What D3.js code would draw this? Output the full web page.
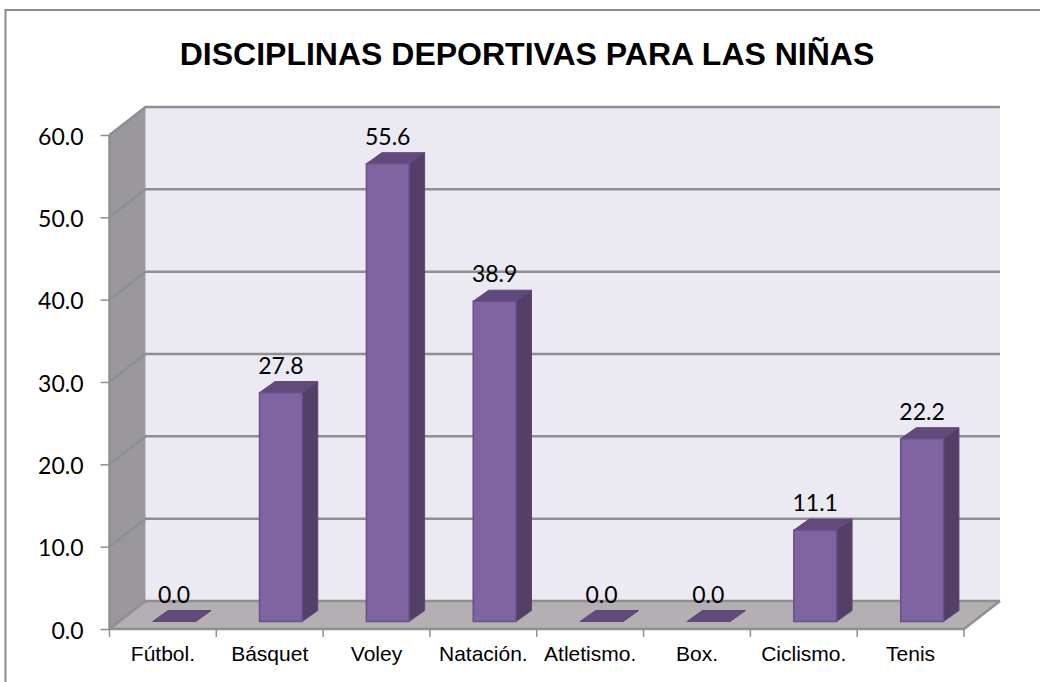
<!DOCTYPE html>
<html>
<head>
<meta charset="utf-8">
<script src="https://cdn.jsdelivr.net/npm/d3@7/dist/d3.min.js"></script>
<style>
html, body { margin: 0; padding: 0; background: #fff; overflow: hidden; }
svg { display: block; }
</style>
</head>
<body>
<script>
const categories = ["Fútbol.", "Básquet", "Voley", "Natación.", "Atletismo.", "Box.", "Ciclismo.", "Tenis"];
const values = [0.0, 27.8, 55.6, 38.9, 0.0, 0.0, 11.1, 22.2];
const ticks = [0, 10, 20, 30, 40, 50, 60];
const title = "DISCIPLINAS DEPORTIVAS PARA LAS NIÑAS";

const svgWidth = 1040;
const svgHeight = 682;

// front edge of the 3d box, the back wall sits depth.x / depth.y away from it
const front = {left: 109.5, right: 964, top: 135, bottom: 629};
const depth = {x: 36, y: -28};
const barDepth = {x: 15.5, y: -11};

const svg = d3.select("body")
    .append("svg")
    .attr("width", svgWidth)
    .attr("height", svgHeight);

const y = d3.scaleLinear().domain([0, 60]).range([front.bottom, front.top]);
const x = d3.scaleBand().domain(categories).range([front.left, front.right]);
// bars stand a bit inside the floor, so they get their own band positions
const xBar = d3.scaleBand().domain(categories).range([120.6, 975.5]).paddingInner(0.6).paddingOuter(0.3);
const barLift = -7.5;

const pts = a => a.map(p => p.join(",")).join(" ");

// outer frame, runs off the right and bottom of the picture
svg.append("rect")
    .attr("x", 5.5).attr("y", 10)
    .attr("width", 1100).attr("height", 720)
    .attr("fill", "#fff")
    .attr("stroke", "#8c8c8c")
    .attr("stroke-width", 2);

svg.append("text")
    .attr("x", 527).attr("y", 65)
    .attr("text-anchor", "middle")
    .style("font-family", "'Liberation Sans', Arial, sans-serif")
    .style("font-weight", "bold")
    .style("font-size", "32px")
    .style("fill", "#000")
    .text(title);

// back wall
svg.append("rect")
    .attr("x", front.left + depth.x).attr("y", front.top + depth.y)
    .attr("width", front.right - front.left)
    .attr("height", front.bottom - front.top)
    .attr("fill", "#ebe9f1");

// side wall
svg.append("polygon")
    .attr("points", pts([
        [front.left, front.top],
        [front.left + depth.x, front.top + depth.y],
        [front.left + depth.x, front.bottom + depth.y],
        [front.left, front.bottom]
    ]))
    .attr("fill", "#9a989d");

// floor
svg.append("polygon")
    .attr("points", pts([
        [front.left, front.bottom],
        [front.left + depth.x, front.bottom + depth.y],
        [front.right + depth.x, front.bottom + depth.y],
        [front.right, front.bottom]
    ]))
    .attr("fill", "#b3afb3");

// gridlines along side wall and back wall
svg.append("g")
    .selectAll("polyline")
    .data(ticks)
    .join("polyline")
    .attr("points", d => pts([
        [front.left, y(d)],
        [front.left + depth.x, y(d) + depth.y],
        [front.right + depth.x, y(d) + depth.y]
    ]))
    .attr("fill", "none")
    .attr("stroke", "#8f8f8f")
    .attr("stroke-width", 2.5);

// front edges of the box
svg.append("polyline")
    .attr("points", pts([
        [front.right + depth.x, front.bottom + depth.y],
        [front.right, front.bottom],
        [front.left, front.bottom],
        [front.left, front.top]
    ]))
    .attr("fill", "none")
    .attr("stroke", "#8f8f8f")
    .attr("stroke-width", 2.5);

// axes
const yAxis = svg.append("g")
    .attr("transform", `translate(${front.left},0)`)
    .call(d3.axisLeft(y).tickValues(ticks).tickFormat(d3.format(".1f")).tickSize(9).tickPadding(17));
const xAxis = svg.append("g")
    .attr("transform", `translate(0,${front.bottom})`)
    .call(d3.axisBottom(x).tickSize(0).tickPadding(17));

yAxis.select(".domain").remove();
xAxis.select(".domain").remove();
yAxis.selectAll("line").attr("stroke", "#8f8f8f").attr("stroke-width", 1.5);
yAxis.selectAll("text")
    .attr("dy", "0.4em")
    .style("font-family", "Lato, Carlito, sans-serif")
    .style("font-size", "23px")
    .style("font-variant-numeric", "tabular-nums")
    .style("fill", "#000");
xAxis.selectAll("text")
    .style("font-family", "'Liberation Sans', Arial, sans-serif")
    .style("font-size", "21px")
    .style("fill", "#000");

// category ticks sit on the band edges
svg.append("g")
    .selectAll("line")
    .data(d3.range(categories.length + 1))
    .join("line")
    .attr("x1", d => front.left + d * x.step())
    .attr("x2", d => front.left + d * x.step())
    .attr("y1", front.bottom)
    .attr("y2", front.bottom + 8)
    .attr("stroke", "#8f8f8f")
    .attr("stroke-width", 1.5);

// bars
const barG = svg.append("g")
    .selectAll("g")
    .data(categories.map((c, i) => ({name: c, value: values[i]})))
    .join("g");

const bx0 = d => xBar(d.name);
const bx1 = d => xBar(d.name) + xBar.bandwidth();
const by0 = d => y(d.value) + barLift;
const by1 = () => y(0) + barLift;

barG.append("polygon")
    .attr("points", d => pts([
        [bx1(d), by0(d)],
        [bx1(d) + barDepth.x, by0(d) + barDepth.y],
        [bx1(d) + barDepth.x, by1() + barDepth.y],
        [bx1(d), by1()]
    ]))
    .attr("fill", "#544067")
    .attr("stroke", "#5d4676")
    .attr("stroke-width", 1);

barG.append("polygon")
    .attr("points", d => pts([
        [bx0(d), by0(d)],
        [bx0(d) + barDepth.x, by0(d) + barDepth.y],
        [bx1(d) + barDepth.x, by0(d) + barDepth.y],
        [bx1(d), by0(d)]
    ]))
    .attr("fill", "#614a7c")
    .attr("stroke", "#5d4676")
    .attr("stroke-width", 1);

barG.filter(d => d.value > 0).append("rect")
    .attr("x", bx0)
    .attr("y", by0)
    .attr("width", xBar.bandwidth())
    .attr("height", d => by1() - by0(d))
    .attr("fill", "#8064a2")
    .attr("stroke", "#69508a")
    .attr("stroke-width", 1.5);

// value labels
barG.append("text")
    .attr("x", d => xBar(d.name) + xBar.bandwidth() / 2)
    .attr("y", d => by0(d) + barDepth.y - 8)
    .attr("text-anchor", "middle")
    .style("font-family", "Lato, Carlito, sans-serif")
    .style("font-size", "23px")
    .style("font-variant-numeric", "tabular-nums")
    .style("fill", "#000")
    .text(d => d3.format(".1f")(d.value));
</script>
</body>
</html>
